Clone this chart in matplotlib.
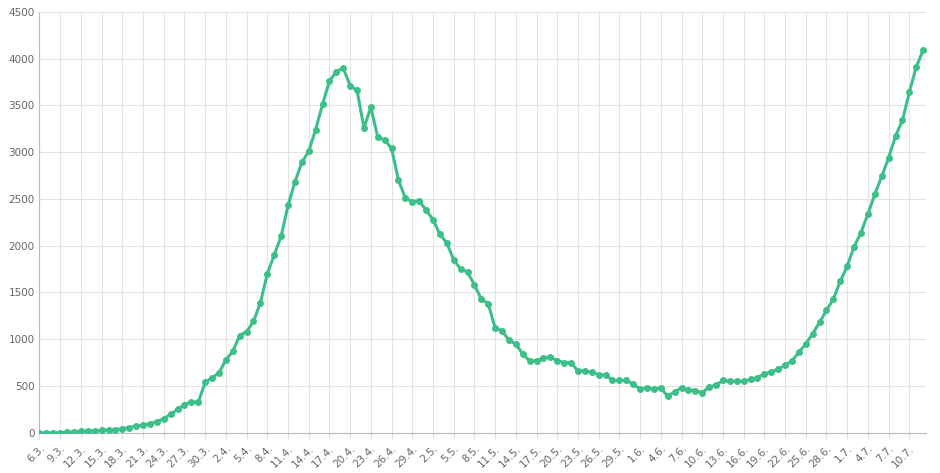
import matplotlib
matplotlib.use("Agg")
import matplotlib.pyplot as plt
import datetime as dt

start = dt.date(2020, 3, 6)
march = [0,0,0,2,5,10,15,20,22,25,28,35,45,55,70,85,95,120,150,200,250,300,330,325,540,590]
april = [640,780,870,1040,1080,1190,1390,1700,1900,2100,2430,2680,2890,3010,3240,3510,3760,3860,3900,3710,
         3660,3260,3480,3160,3130,3040,2700,2510,2470,2480]
may = [2380,2280,2120,2030,1850,1750,1720,1580,1430,1380,1120,1090,990,950,840,770,770,800,810,770,
       750,750,660,660,650,620,620,560,560,560,520]
june = [470,480,470,480,390,440,480,460,450,430,490,510,560,550,550,550,570,590,630,650,
        680,720,770,860,950,1060,1180,1310,1430,1620]
july = [1780,1990,2140,2340,2550,2740,2940,3170,3340,3640,3910,4090]
values = march + april + may + june + july
dates = [start + dt.timedelta(days=i) for i in range(len(values))]
labels = [f"{d.day}.{d.month}." for d in dates]

fig = plt.figure(figsize=(9.4, 4.73), dpi=100)
ax = fig.add_axes([0.042, 0.085, 0.943, 0.89])
x = list(range(len(values)))
ax.plot(x, values, color="#3dbf8a", lw=2.2, marker="o", ms=4, zorder=3)
ax.set_xlim(0, len(values) - 1 + 0.4)
ax.set_ylim(0, 4500)
ax.set_yticks(range(0, 4501, 500))
ax.set_xticks(x[::3])
ax.set_xticklabels(labels[::3], rotation=45, ha="right", rotation_mode="anchor", fontsize=7.5, color="#666")
ax.tick_params(axis="y", labelsize=7.5, colors="#666", length=0)
ax.tick_params(axis="x", length=4, color="#ddd")
ax.grid(True, color="#e3e3e3", lw=0.8)
for s in ["top", "right"]:
    ax.spines[s].set_visible(False)
for s in ["left", "bottom"]:
    ax.spines[s].set_color("#bbb")
fig.savefig("out.png", dpi=100)
